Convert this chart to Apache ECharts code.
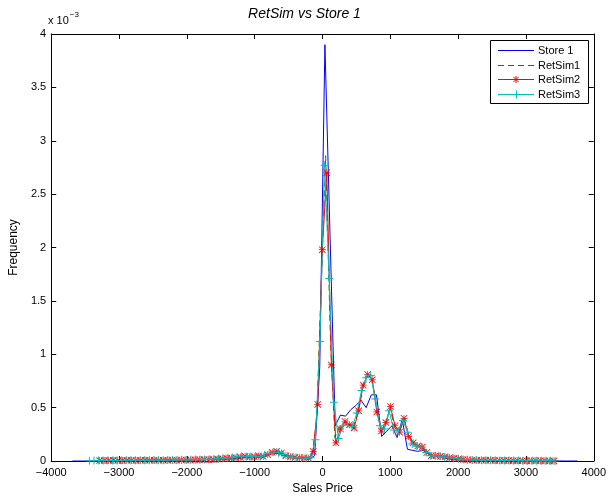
<!DOCTYPE html>
<html>
<head>
<meta charset="utf-8">
<script src="https://cdn.jsdelivr.net/npm/echarts@6/dist/echarts.min.js"></script>
<style>html,body{margin:0;padding:0;background:#fff}#c{width:609px;height:500px}</style>
</head>
<body>
<div id="c"></div>
<script>
// Frequencies are in units of 10^-3 (the axis shows "x 10^-3")
const seriesNames = ['Store 1', 'RetSim1', 'RetSim2', 'RetSim3'];
const seriesColors = ['#0000FF', '#008000', '#FF0000', '#00BFBF'];

const store1X = [-3688,-3612,-3536,-3460,-3384,-3308,-3232,-3156,-3080,-3004,-2928,-2852,-2776,-2700,-2624,-2548,-2472,-2396,-2320,-2244,-2168,-2092,-2016,-1940,-1864,-1788,-1712,-1636,-1560,
  -1484,-1408,-1332,-1256,-1180,-1104,-1028,-952,-876,-800,-724,-648,-572,-496,-420,-344,-268,-192,-116,-40,36,112,188,264,340,416,492,568,644,720,796,872,948,1024,1100,1176,1252,1328,1404,1480,
  1556,1632,1708,1784,1860,1936,2012,2088,2164,2240,2316,2392,2468,2544,2620,2696,2772,2848,2924,3000,3076,3152,3228,3304,3380,3456,3532,3608,3684,3760];
const store1Y = [0,0,0,0,0,0.002,0.003,0.002,0.004,0.003,0.004,0.005,0.004,0.006,0.005,0.006,0.007,0.006,0.008,0.007,0.009,0.008,0.010,0.011,0.010,0.012,0.013,0.012,0.015,
  0.016,0.018,0.020,0.022,0.030,0.035,0.040,0.035,0.038,0.055,0.072,0.070,0.050,0.035,0.030,0.025,0.022,0.020,0.05,0.88,3.9,2.1,0.33,0.43,0.42,0.48,0.52,0.57,0.50,0.62,0.62,0.23,0.28,0.33,0.22,0.39,0.11,0.10,0.09,0.10,
  0.07,0.05,0.05,0.03,0.02,0.012,0.010,0.008,0.007,0.006,0.005,0.005,0.004,0.004,0.003,0.003,0.003,0.002,0.002,0.002,0.002,0.001,0.001,0.001,0.001,0.001,0,0,0,0];

const retSim1X = [-3353,-3285,-3217,-3149,-3081,-3013,-2945,-2877,-2809,-2741,-2673,-2605,-2537,-2469,-2401,-2333,-2265,-2197,-2129,-2061,
  -1993,-1925,-1857,-1789,-1721,-1653,-1585,-1517,-1449,-1381,-1313,-1245,-1177,-1109,-1041,-973,-905,-837,-769,-701,
  -633,-565,-497,-429,-361,-293,-225,-157,-89,-21,47,115,183,251,319,387,455,523,591,659,
  727,795,863,931,999,1067,1135,1203,1271,1339,1407,1475,1543,1611,1679,1747,1815,1883,1951,2019,
  2087,2155,2223,2291,2359,2427,2495,2563,2631,2699,2767,2835,2903,2971,3039,3107,3175,3243,3311,3379,3447];
const retSim1Y = [0.004,0.005,0.005,0.006,0.005,0.006,0.006,0.007,0.006,0.007,0.008,0.007,0.008,0.008,0.009,0.008,0.009,0.010,0.009,0.010,
  0.011,0.012,0.012,0.013,0.014,0.016,0.018,0.021,0.024,0.027,0.030,0.034,0.042,0.042,0.041,0.044,0.043,0.050,0.075,0.088,
  0.082,0.058,0.042,0.036,0.031,0.028,0.026,0.040,0.35,1.60,2.86,1.20,0.22,0.32,0.36,0.34,0.32,0.45,0.68,0.80,
  0.78,0.52,0.30,0.34,0.49,0.31,0.28,0.39,0.25,0.17,0.14,0.13,0.09,0.05,0.05,0.047,0.038,0.03,0.025,0.02,
  0.016,0.012,0.010,0.009,0.008,0.007,0.006,0.006,0.005,0.005,0.004,0.004,0.004,0.003,0.003,0.003,0.002,0.002,0.002,0.002,0.001];

const retSim2X = [-3286,-3219,-3152,-3085,-3018,-2951,-2884,-2817,-2750,-2683,-2616,-2549,-2482,-2415,-2348,-2281,-2214,-2147,-2080,-2013,
  -1946,-1879,-1812,-1745,-1678,-1611,-1544,-1477,-1410,-1343,-1276,-1209,-1142,-1075,-1008,-941,-874,-807,-740,-673,
  -606,-539,-472,-405,-338,-271,-204,-137,-70,-3,64,131,198,265,332,399,466,533,600,667,
  734,801,868,935,1002,1069,1136,1203,1270,1337,1404,1471,1538,1605,1672,1739,1806,1873,1940,2007,
  2074,2141,2208,2275,2342,2409,2476,2543,2610,2677,2744,2811,2878,2945,3012,3079,3146,3213,3280,3347,3414];
const retSim2Y = [0.004,0.005,0.004,0.006,0.005,0.004,0.006,0.007,0.005,0.006,0.007,0.006,0.008,0.007,0.006,0.008,0.009,0.007,0.010,0.009,
  0.010,0.012,0.011,0.013,0.012,0.015,0.018,0.020,0.025,0.028,0.030,0.035,0.045,0.038,0.040,0.048,0.042,0.060,0.082,0.090,
  0.075,0.050,0.040,0.035,0.030,0.028,0.025,0.09,0.53,1.98,2.70,0.90,0.17,0.30,0.37,0.34,0.31,0.47,0.71,0.81,
  0.76,0.46,0.28,0.36,0.51,0.33,0.27,0.40,0.23,0.17,0.14,0.13,0.08,0.05,0.05,0.045,0.04,0.03,0.025,0.02,
  0.015,0.012,0.010,0.008,0.007,0.006,0.006,0.005,0.005,0.004,0.004,0.003,0.003,0.003,0.002,0.002,0.002,0.002,0.002,0.001,0.001];

const retSim3X = [-3437,-3369,-3301,-3233,-3165,-3097,-3029,-2961,-2893,-2825,-2757,-2689,-2621,-2553,-2485,-2417,-2349,-2281,-2213,-2145,
  -2077,-2009,-1941,-1873,-1805,-1737,-1669,-1601,-1533,-1465,-1397,-1329,-1261,-1193,-1125,-1057,-989,-921,-853,-785,
  -717,-649,-581,-513,-445,-377,-309,-241,-173,-105,-37,31,99,167,235,303,371,439,507,575,
  643,711,779,847,915,983,1051,1119,1187,1255,1323,1391,1459,1527,1595,1663,1731,1799,1867,1935,
  2003,2071,2139,2207,2275,2343,2411,2479,2547,2615,2683,2751,2819,2887,2955,3023,3091,3159,3227,3295,3363,3431];
const retSim3Y = [0.003,0.004,0.005,0.004,0.006,0.005,0.005,0.006,0.007,0.006,0.007,0.008,0.006,0.008,0.009,0.008,0.007,0.009,0.010,0.009,
  0.011,0.010,0.012,0.013,0.012,0.014,0.016,0.018,0.022,0.025,0.028,0.032,0.040,0.045,0.040,0.042,0.045,0.040,0.055,0.070,
  0.085,0.080,0.060,0.045,0.035,0.030,0.027,0.025,0.030,0.20,1.12,2.77,1.71,0.55,0.21,0.33,0.35,0.32,0.45,0.66,
  0.78,0.80,0.58,0.33,0.30,0.47,0.29,0.28,0.38,0.27,0.16,0.14,0.13,0.08,0.05,0.05,0.045,0.035,0.03,0.025,
  0.02,0.015,0.012,0.010,0.009,0.008,0.007,0.006,0.006,0.005,0.005,0.004,0.004,0.004,0.003,0.003,0.003,0.002,0.002,0.002,0.002,0.001];

function pairs(xs, ys) { return xs.map((x, i) => [x, ys[i]]); }

const FONT = 'Liberation Sans, Arial, Helvetica, sans-serif';
const starPath = 'path://M4.5,0 L5.5,0 L5.5,10 L4.5,10 Z M0,4.5 L10,4.5 L10,5.5 L0,5.5 Z M0.8,0 L10,9.2 L9.2,10 L0,0.8 Z M9.2,0 L10,0.8 L0.8,10 L0,9.2 Z';
const plusPath = 'path://M4.4,0 L5.6,0 L5.6,10 L4.4,10 Z M0,4.4 L10,4.4 L10,5.6 L0,5.6 Z';
const minus = v => String(v).replace('-', '\u2212');

const axisCommon = {
  axisLine: { show: true, onZero: false, lineStyle: { color: '#000', width: 1 } },
  axisTick: { show: true, inside: true, length: 5, lineStyle: { color: '#000', width: 1 } },
  splitLine: { show: false },
};

// Legend box (MATLAB style), drawn as graphic elements
function legendGraphics() {
  const boxX = 490.5, boxY = 40.5, boxW = 98, boxH = 63;
  const rowY = [50.5, 65.5, 79.5, 94.5];
  const x1 = 498, x2 = 534, cx = 516;
  const els = [{
    type: 'rect', shape: { x: boxX, y: boxY, width: boxW, height: boxH },
    style: { fill: '#fff', stroke: '#000', lineWidth: 1 }, z: 100
  }];
  seriesNames.forEach((name, i) => {
    const y = rowY[i];
    els.push({
      type: 'line', shape: { x1: x1, y1: y, x2: x2, y2: y }, z: 101,
      style: { stroke: seriesColors[i], lineWidth: 1, lineDash: i === 1 ? [6, 4] : null }
    });
    if (i === 2) {
      const r = 3.5;
      [[cx - r, y, cx + r, y], [cx, y - r, cx, y + r], [cx - 2.6, y - 2.6, cx + 2.6, y + 2.6], [cx - 2.6, y + 2.6, cx + 2.6, y - 2.6]]
        .forEach(s => els.push({ type: 'line', z: 102, shape: { x1: s[0], y1: s[1], x2: s[2], y2: s[3] }, style: { stroke: seriesColors[2], lineWidth: 1 } }));
    }
    if (i === 3) {
      els.push({ type: 'line', z: 102, shape: { x1: cx + 0.5, y1: y - 4, x2: cx + 0.5, y2: y + 4 }, style: { stroke: seriesColors[3], lineWidth: 1 } });
    }
    els.push({
      type: 'text', x: 538, y: y, z: 103,
      style: { text: name, fill: '#000', font: '11px ' + FONT, textVerticalAlign: 'middle', verticalAlign: 'middle' }
    });
  });
  return els;
}

const chart = echarts.init(document.getElementById('c'), null, { renderer: 'canvas' });
chart.setOption({
  animation: false,
  backgroundColor: '#fff',
  textStyle: { fontFamily: FONT },
  title: {
    text: 'RetSim vs Store 1', left: 'center', top: 2,
    textStyle: { fontFamily: FONT, fontSize: 14, fontStyle: 'italic', fontWeight: 'normal', color: '#000' }
  },
  grid: { left: 49, right: 13, top: 34, bottom: 35, containLabel: false },
  xAxis: [
    Object.assign({}, axisCommon, {
      type: 'value', min: -4000, max: 4000, interval: 1000, position: 'bottom',
      axisLabel: { color: '#000', fontSize: 11, fontFamily: FONT, margin: 6, formatter: minus },
      name: 'Sales Price', nameLocation: 'middle', nameGap: 22,
      nameTextStyle: { color: '#000', fontSize: 12, fontFamily: FONT }
    }),
    Object.assign({}, axisCommon, {
      type: 'value', min: -4000, max: 4000, interval: 1000, position: 'top',
      axisLabel: { show: false }
    })
  ],
  yAxis: [
    Object.assign({}, axisCommon, {
      type: 'value', min: 0, max: 4, interval: 0.5, position: 'left',
      axisLabel: { color: '#000', fontSize: 11, fontFamily: FONT, margin: 5 },
      name: 'Frequency', nameLocation: 'middle', nameGap: 29, nameRotate: 90,
      nameTextStyle: { color: '#000', fontSize: 12, fontFamily: FONT }
    }),
    Object.assign({}, axisCommon, {
      type: 'value', min: 0, max: 4, interval: 0.5, position: 'right',
      axisLabel: { show: false }
    })
  ],
  graphic: [{
    type: 'text', left: 48, top: 11,
    style: {
      text: '{b|x 10}{s|\u22123}',
      rich: {
        b: { fontFamily: FONT, fontSize: 11, fill: '#000', verticalAlign: 'bottom', padding: [4, 0, 0, 0] },
        s: { fontFamily: FONT, fontSize: 8, fill: '#000', verticalAlign: 'top', padding: [0, 0, 6, 1] }
      }
    }
  }].concat(legendGraphics()),
  series: [
    { name: 'Store 1', type: 'line', data: pairs(store1X, store1Y), symbol: 'none',
      lineStyle: { color: seriesColors[0], width: 1 }, itemStyle: { color: seriesColors[0] } },
    { name: 'RetSim1', type: 'line', data: pairs(retSim1X, retSim1Y), symbol: 'none',
      lineStyle: { color: seriesColors[1], width: 1, type: [6, 4] }, itemStyle: { color: seriesColors[1] } },
    { name: 'RetSim2', type: 'line', data: pairs(retSim2X, retSim2Y), symbol: starPath, symbolSize: 7,
      showSymbol: true, lineStyle: { color: seriesColors[2], width: 1 }, itemStyle: { color: seriesColors[2] } },
    { name: 'RetSim3', type: 'line', data: pairs(retSim3X, retSim3Y), symbol: plusPath, symbolSize: 8,
      showSymbol: true, lineStyle: { color: seriesColors[3], width: 1 }, itemStyle: { color: seriesColors[3] } }
  ]
});
</script>
</body>
</html>
